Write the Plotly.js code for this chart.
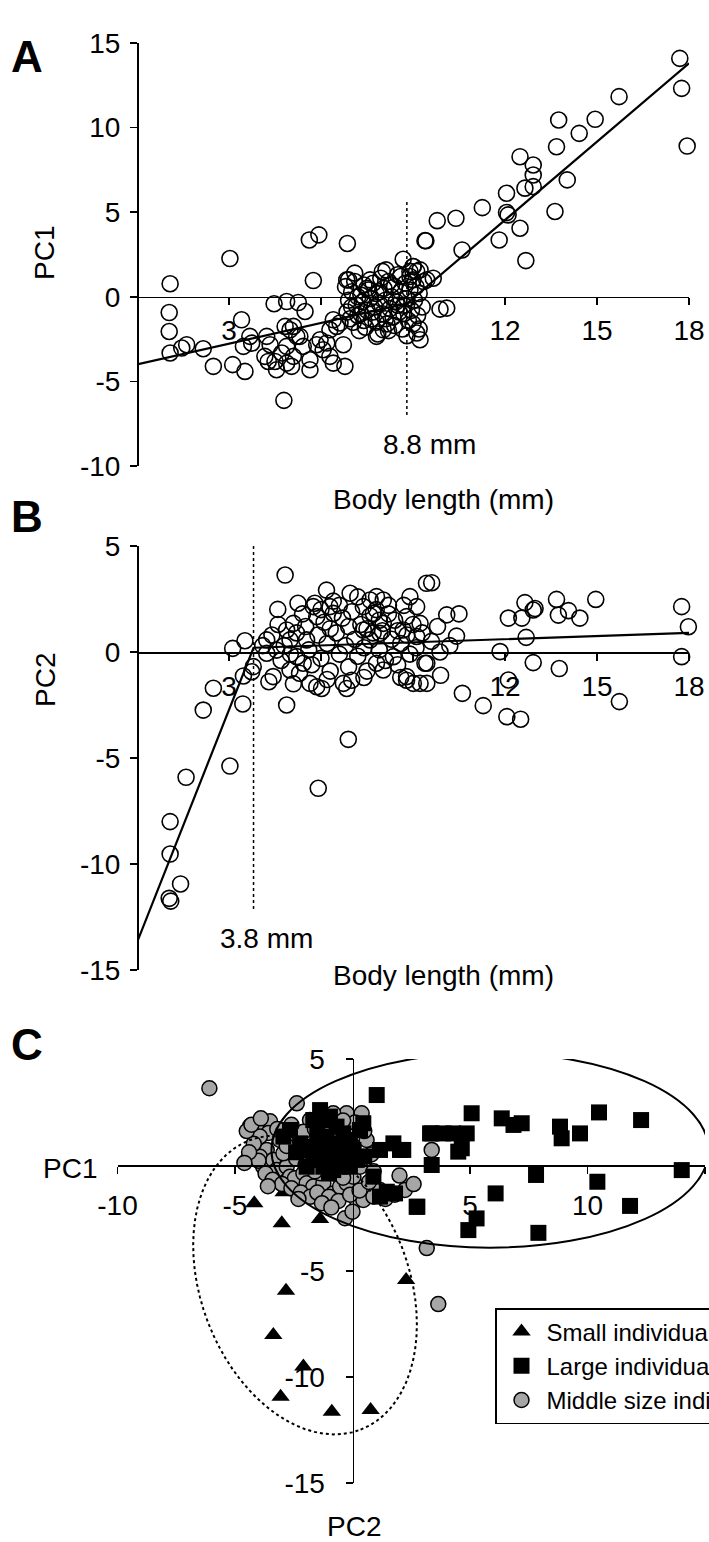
<!DOCTYPE html>
<html>
<head>
<meta charset="utf-8">
<script src="https://cdn.plot.ly/plotly-3.0.1.min.js"></script>
<style>html,body{margin:0;padding:0;background:#fff;overflow:hidden}#chart{width:709px;height:1542px}</style>
</head>
<body>
<div id="chart"></div>
<script>
// ---------------- DATA ----------------
// Panel A: body length (mm) vs PC1
const aX = [1.08,1.05,1.05,1.08,1.46,1.62,2.16,2.49,3.03,3.12,3.52,3.41,3.47,3.74,3.68,4.47,4.88,5.26,5.48,5.62,5.93,6.86,5.75,
 4.23,4.34,4.17,4.28,4.55,4.5,4.72,4.88,4.99,4.83,5.10,5.21,5.10,4.88,5.04,5.42,5.31,5.64,5.64,5.86,5.97,6.07,6.19,6.29,6.40,6.51,6.62,6.73,6.78,6.40,6.29,4.79,
 8.68,9.39,8.12,9.0,9.12,9.23,9.12,8.03,7.81,6.84,
 17.70,17.76,17.94,15.72,14.94,14.42,13.75,13.68,14.03,13.63,12.49,12.92,12.92,12.65,12.92,12.05,12.05,12.1,12.49,11.81,12.68,11.26,10.40,9.79,9.42,10.6,9.88,10.1,9.01,9.23,9.45,9.66,8.9,
 6.8,6.9,6.85,7.0,7.05,7.1,7.15,7.2,7.3,7.35,7.4,7.45,7.5,7.55,7.6,7.65,7.7,7.75,7.8,7.85,7.9,7.95,8.0,8.05,8.1,8.15,8.2,8.25,8.3,8.35,8.4,8.45,8.5,8.55,8.6,8.65,8.7,8.75,8.8,8.85,8.9,8.95,9.0,9.05,9.1,9.15,9.2,9.3,9.35,
 7.0,7.25,7.4,7.6,7.8,8.0,8.2,8.4,8.6,8.8,9.0,7.1,7.3,7.5,7.7,7.9,8.1,8.3,8.5,8.7,8.9,9.2,6.9,6.95,7.2];
const aY = [0.77,-0.93,-2.05,-3.32,-3.03,-2.83,-3.07,-4.11,2.26,-4.01,-4.41,-1.36,-2.93,-2.74,-2.34,-0.41,-0.28,-0.34,-0.87,3.36,3.66,3.15,0.96,
 -2.34,-2.83,-3.52,-3.82,-4.31,-3.82,-3.32,-2.93,-1.95,-1.75,-1.75,-2.34,-3.52,-3.92,-4.11,-2.93,-2.34,-4.31,-3.72,-2.83,-2.54,-3.13,-2.73,-3.52,-3.92,-1.75,-1.55,-2.83,-4.11,-1.36,-1.95,-6.12,
 2.22,3.32,1.59,1.79,1.5,-2.54,-2.14,-1.95,-2.34,1.0,
 14.09,12.32,8.91,11.83,10.49,9.66,10.45,8.87,6.91,5.04,8.28,7.79,7.2,6.42,6.51,6.12,4.98,4.84,4.05,3.36,2.14,5.27,4.64,4.5,3.31,2.77,-0.73,-0.67,1.79,1.59,1.0,1.1,1.2,
 0.6,-0.2,-0.9,0.3,-1.5,0.9,-0.5,-1.1,0.1,-0.3,0.7,-1.8,-0.8,0.4,-0.1,-1.3,0.8,-0.6,0.2,-2.2,-0.4,1.1,-1.0,0.5,-0.2,-1.6,0.9,-0.7,0.0,-1.2,0.6,-0.3,1.3,-0.9,0.3,-1.9,-0.5,0.8,-0.1,-1.4,0.4,-0.8,1.0,-0.2,0.6,-1.1,0.2,-0.6,0.9,
 -0.6,-2.0,-1.4,1.0,-1.5,1.5,-2.0,-1.7,1.2,-2.3,-1.6,1.4,-1.0,0.5,-0.9,0.3,-1.3,0.7,-0.5,-1.0,1.5,-1.9,1.0,-1.3,0.0];
const aFitX = [0, 8.8, 18];
const aFitY = [-4.0, -0.4, 13.8];
const aBreak = 8.8;
const aBreakY = [5.6, -7.1];

// Panel B: body length (mm) vs PC2
const bX = [1.08,1.08,1.42,1.05,1.10,1.6,2.16,2.49,3.03,3.12,3.52,3.45,3.47,3.74,3.79,
 4.83,4.59,4.88,6.89,5.91,
 4.23,4.23,4.44,4.55,4.88,5.10,4.99,5.21,5.42,4.99,5.64,5.86,6.02,5.53,5.75,5.86,6.18,6.29,6.40,6.73,6.84,7.0,6.95,7.38,7.6,7.81,8.03,7.71,7.38,7.6,7.92,8.03,7.81,8.03,8.36,8.68,8.79,8.90,9.12,9.23,9.12,9.01,9.23,9.39,8.79,9.44,
 9.61,10.1,10.42,9.45,9.88,9.45,8.79,11.84,12.11,12.55,12.65,12.92,12.98,12.69,12.92,13.68,13.74,14.07,14.44,14.96,13.77,17.76,17.98,17.76,12.11,10.61,11.29,12.06,12.51,15.73,
 4.1,4.4,4.7,4.8,5.0,5.2,5.3,5.5,5.6,5.7,5.8,5.9,6.0,6.1,6.2,6.3,6.4,6.5,6.6,6.7,6.8,6.9,7.0,7.1,7.2,7.3,7.4,7.5,7.6,7.7,7.8,7.9,8.0,8.1,8.2,8.3,8.4,8.5,8.6,8.7,8.8,8.9,9.0,9.1,9.3,
 6.0,6.6,7.2,7.5,8.2,8.5,6.3,5.4,4.6,6.9,7.9,8.6,7.4,6.2,5.1,9.6,9.8,10.2,10.5,9.9,5.25,4.3];
const bY = [-8.0,-9.53,-10.94,-11.62,-11.75,-5.91,-2.74,-1.71,-5.38,0.17,0.53,-2.45,-1.13,-0.93,-0.69,
 3.63,2.01,-2.5,-4.12,-6.43,
 0.57,-0.06,-1.16,0.09,1.04,1.35,0.57,-0.22,-0.53,-0.85,-1.48,-1.64,-1.72,0.57,2.14,1.67,2.92,2.14,1.82,-1.48,-1.72,-1.33,2.77,2.14,2.45,2.61,2.45,1.82,1.04,0.57,0.88,1.35,-0.53,-0.85,-0.22,1.04,1.67,2.61,2.14,1.35,0.73,-1.48,-1.48,-0.53,-1.16,3.24,
 3.27,1.75,0.75,-0.53,0.0,-1.48,-1.33,0.02,1.60,1.60,2.33,1.98,2.05,0.69,-0.50,2.48,1.74,1.95,1.60,2.48,-0.78,2.14,1.19,-0.22,-1.32,-1.95,-2.53,-3.05,-3.17,-2.34,
 0.3,0.8,-0.4,0.3,-0.1,0.9,-1.0,1.2,0.1,-0.6,2.3,0.8,-0.3,1.4,0.4,-0.9,2.4,0.9,-0.1,1.6,0.3,-0.7,1.9,0.6,-0.2,1.3,0.2,-0.9,1.7,0.9,2.0,0.1,1.0,-0.4,2.2,0.6,1.5,-0.6,0.4,2.2,0.8,-0.1,1.3,0.2,0.9,
 2.0,2.2,2.6,1.1,1.8,1.0,1.1,1.8,1.3,1.2,1.5,-1.2,-1.2,-1.3,-1.5,0.5,1.2,0.3,1.8,-1.1,2.3,-1.4];
const bFitX = [0, 3.8, 18];
const bFitY = [-13.7, 0.2, 0.9];
const bBreak = 3.8;
const bBreakY = [5, -12.2];

// Panel C: PC1 vs PC2 by size class
const smallPC1 = [-4.5,-4.18,-2.93,-3.01,-1.38,2.28,-2.83,-3.37,-2.09,-3.06,-0.88,0.77];
const smallPC2 = [0.45,-1.8,-1.29,-2.75,-2.55,-5.42,-5.93,-8.02,-9.51,-10.93,-11.64,-11.56];
const largePC1 = [1.03,-1.38,-1.67,-1.24,-0.96,-0.68,0.46,0.32,-2.66,-2.94,-2.23,-1.95,-1.67,-1.38,-0.96,-0.68,-0.39,-0.25,0.04,-0.11,-0.39,-1.1,-1.67,-1.95,-1.24,-0.82,-0.53,-0.11,0.18,0.89,1.17,1.74,2.02,1.46,1.81,1.17,2.73,3.3,3.37,
 5.07,3.37,3.87,4.29,4.86,4.5,4.65,2.16,6.35,6.85,7.2,8.83,8.9,9.68,10.49,12.28,7.81,10.42,14.01,6.09,2.76,5.28,4.93,7.91,11.81,
 -1.5,-0.8,-1.2,-0.2,-2.4,-0.6,0.5,-1.0];
const largePC2 = [3.3,2.59,2.12,2.12,2.28,1.81,1.97,1.65,1.65,1.34,1.02,0.71,0.87,0.39,0.24,0.71,0.39,0.55,0.71,1.18,1.49,1.34,0.24,-0.08,-0.08,-0.24,-0.08,-0.08,0.24,-0.55,0.71,1.02,0.71,-1.26,-1.34,-1.49,-1.97,1.49,0.0,
 2.44,1.49,1.49,1.49,1.49,0.63,0.79,0.71,2.2,1.89,1.97,1.81,1.26,1.49,2.48,2.12,-0.47,-0.79,-0.24,-1.34,-1.97,-2.52,-3.07,-3.2,-1.93,
 1.6,1.0,1.0,0.9,0.6,0.0,0.4,-0.4];
const middlePC1 = [-6.09,-2.37,-4.36,-4.08,-3.51,-3.58,-3.94,-3.65,-3.94,-3.8,-3.37,-3.23,-2.8,-2.94,-3.09,-2.66,-2.45,-2.09,-1.95,-1.67,-1.24,-1.38,-0.82,-0.53,-0.25,0.04,0.32,0.46,0.6,0.39,-0.25,-0.82,-1.38,-1.81,-2.09,-0.68,-1.1,-0.53,0.04,0.18,0.46,0.89,1.17,2.23,-0.32,3.37,-0.68,3.16,3.65,
 -4.2,-4.0,-3.7,-3.4,-3.0,-2.6,-2.2,-1.8,-1.5,-1.0,-0.6,-0.1,0.3,0.7,0.9,0.8,0.5,0.1,-0.4,-1.0,-1.6,-2.6,-3.2,-2.8,-2.4,-2.0,-1.6,-1.2,-0.8,-0.4,-4.5,-4.3,-3.9,-4.4,-3.6,1.4,1.8,2.6,-2.3,-1.3,-0.9,0.0,2.0,-4.6];
const middlePC2 = [3.62,2.91,1.84,1.67,2.06,1.51,1.34,0.71,0.39,-0.08,0.24,-0.24,-0.08,0.55,1.18,-0.55,-0.63,-0.39,-0.86,-1.02,-0.86,-0.39,-1.34,-1.02,-0.86,-0.55,-0.08,0.39,1.18,2.44,2.44,2.44,2.28,2.12,1.57,1.49,0.71,0.24,0.87,-1.65,-1.65,-1.49,-1.18,-1.18,-2.51,0.71,0.08,-3.92,-6.56,
 1.0,0.2,-0.4,-0.7,-0.9,-1.1,-1.3,-1.5,-1.3,-1.5,-1.7,-1.4,-1.2,-0.8,-0.3,0.5,1.6,2.0,2.1,1.9,1.7,1.9,1.7,0.9,0.3,0.0,-0.3,0.2,-0.4,-0.6,1.6,1.9,2.2,0.6,-1.0,-1.6,-1.4,-0.9,-1.6,-1.8,-2.0,-2.2,-0.5,0.1];

const xTicksAB = [3,6,9,12,15,18];
const xTextAB = ['3','','','12','15','18'];
const yTicksA = [-10,-5,0,5,10,15];
const yTicksB = [-15,-10,-5,0,5];
const xTicksC = [-10,-5,0,5,10,15];
const xTextC = ['-10','-5','','5','10','15'];
const yTicksC = [-15,-10,-5,0,5];
const yTextC = ['-15','-10','-5','','5'];

// ---------------- LAYOUT ----------------
const W = 709, H = 1542;
const FONT = 'Liberation Sans, Arial, sans-serif';
const fx = p => p / W;
const fy = p => 1 - p / H;

const domXA = [fx(137), fx(689)];
const domYA = [fy(466), fy(43)];
const domYB = [fy(970), fy(546)];
const domXC = [fx(117.5), fx(705)];
const domYC = [fy(1483), fy(1059)];
const zeroPos = (dom, r) => dom[0] + (0 - r[0]) / (r[1] - r[0]) * (dom[1] - dom[0]);

const base = {
  showline: true, linecolor: '#000', linewidth: 1.5,
  ticks: 'outside', ticklen: 7, tickwidth: 1.5, tickcolor: '#000',
  showgrid: false, zeroline: false, fixedrange: true,
  tickfont: {family: FONT, size: 28, color: '#000'}
};

const rXA = [0, 18], rYA = [-10, 15], rYB = [-15, 5], rXC = [-10, 15], rYC = [-15, 5];

const layout = {
  width: W, height: H,
  margin: {l: 0, r: 0, t: 0, b: 0, autoexpand: false},
  paper_bgcolor: '#fff', plot_bgcolor: 'rgba(0,0,0,0)',
  font: {family: FONT, color: '#000'},
  xaxis: Object.assign({}, base, {domain: domXA, range: rXA, anchor: 'free', position: zeroPos(domYA, rYA),
    tickmode: 'array', tickvals: xTicksAB, ticktext: xTextAB, ticklabelstandoff: 1}),
  yaxis: Object.assign({}, base, {domain: domYA, range: rYA, anchor: 'free', position: domXA[0],
    tickmode: 'array', tickvals: yTicksA, ticktext: yTicksA.map(String), ticklabelstandoff: 4}),
  xaxis2: Object.assign({}, base, {domain: domXA, range: rXA, anchor: 'free', position: zeroPos(domYB, rYB),
    tickmode: 'array', tickvals: xTicksAB, ticktext: xTextAB, ticklabelstandoff: 2}),
  yaxis2: Object.assign({}, base, {domain: domYB, range: rYB, anchor: 'free', position: domXA[0],
    tickmode: 'array', tickvals: yTicksB, ticktext: yTicksB.map(String), ticklabelstandoff: 4}),
  xaxis3: Object.assign({}, base, {domain: domXC, range: rXC, anchor: 'free', position: zeroPos(domYC, rYC),
    tickmode: 'array', tickvals: xTicksC, ticktext: xTextC, ticklabelstandoff: 8}),
  yaxis3: Object.assign({}, base, {domain: domYC, range: rYC, anchor: 'free', position: zeroPos(domXC, rXC),
    tickmode: 'array', tickvals: yTicksC, ticktext: yTextC, ticklabelstandoff: 15}),
  showlegend: true,
  legend: {x: fx(495), y: fy(1308), xanchor: 'left', yanchor: 'top', bgcolor: '#fff',
    bordercolor: '#000', borderwidth: 1.5, font: {family: FONT, size: 24, color: '#000'},
    itemwidth: 40, tracegroupgap: 0},
  annotations: [],
  shapes: []
};

function ann(text, px, py, size, extra) {
  layout.annotations.push(Object.assign({text: text, xref: 'paper', yref: 'paper', x: fx(px), y: fy(py),
    xanchor: 'center', yanchor: 'middle', showarrow: false,
    font: {family: FONT, size: size, color: '#000'}}, extra || {}));
}
ann('<b>A</b>', 27, 57, 44);
ann('<b>B</b>', 27, 517, 44);
ann('<b>C</b>', 27, 1044, 44);
ann('PC1', 45, 253, 28, {textangle: -90});
ann('8.8 mm', 430, 445, 28);
ann('Body length (mm)', 443, 500, 28);
ann('PC2', 45, 680, 28, {textangle: -90});
ann('3.8 mm', 266, 939, 28);
ann('Body length (mm)', 443, 975, 28);
ann('PC1', 70, 1168, 28);
ann('PC2', 354, 1526, 28);

// Ellipses in panel C (drawn in axis data coordinates)
layout.shapes.push({type: 'circle', xref: 'x3', yref: 'y3', x0: -3.45, x1: 15.15, y0: -3.9, y1: 5.3,
  line: {color: '#000', width: 2}, fillcolor: 'rgba(0,0,0,0)', layer: 'above'});
(function () {
  // rotated ellipse: centre, semi-axes (in plot pixels), tilt
  const sx = (domXC[1] - domXC[0]) * W / (rXC[1] - rXC[0]);
  const sy = (domYC[1] - domYC[0]) * H / (rYC[1] - rYC[0]);
  const cx = -2.02, cy = -5.66, a = 155, b = 104, th = 21 * Math.PI / 180;
  let d = '';
  for (let i = 0; i <= 72; i++) {
    const t = i / 72 * 2 * Math.PI;
    const dxp = a * Math.cos(t) * Math.sin(th) + b * Math.sin(t) * Math.cos(th);
    const dyp = a * Math.cos(t) * Math.cos(th) - b * Math.sin(t) * Math.sin(th);
    const x = cx + dxp / sx, y = cy - dyp / sy;
    d += (i === 0 ? 'M' : 'L') + x.toFixed(4) + ',' + y.toFixed(4);
  }
  d += 'Z';
  layout.shapes.push({type: 'path', path: d, xref: 'x3', yref: 'y3',
    line: {color: '#000', width: 2, dash: 'dot'}, layer: 'above'});
})();

// ---------------- TRACES ----------------
const openCircle = {symbol: 'circle-open', size: 16, color: '#000', line: {width: 1.6}};
const traces = [
  {x: aX, y: aY, xaxis: 'x', yaxis: 'y', mode: 'markers', type: 'scatter', marker: openCircle, showlegend: false, cliponaxis: false},
  {x: aFitX, y: aFitY, xaxis: 'x', yaxis: 'y', mode: 'lines', type: 'scatter', line: {color: '#000', width: 2.2}, showlegend: false},
  {x: [aBreak, aBreak], y: aBreakY, xaxis: 'x', yaxis: 'y', mode: 'lines', type: 'scatter', line: {color: '#000', width: 1.5, dash: 'dot'}, showlegend: false},
  {x: bX, y: bY, xaxis: 'x2', yaxis: 'y2', mode: 'markers', type: 'scatter', marker: openCircle, showlegend: false, cliponaxis: false},
  {x: bFitX, y: bFitY, xaxis: 'x2', yaxis: 'y2', mode: 'lines', type: 'scatter', line: {color: '#000', width: 2.2}, showlegend: false},
  {x: [bBreak, bBreak], y: bBreakY, xaxis: 'x2', yaxis: 'y2', mode: 'lines', type: 'scatter', line: {color: '#000', width: 1.5, dash: 'dot'}, showlegend: false},
  {x: smallPC1, y: smallPC2, xaxis: 'x3', yaxis: 'y3', mode: 'markers', type: 'scatter', name: 'Small individuals', legendrank: 1,
    marker: {symbol: 'triangle-up', size: 16, color: '#000'}, cliponaxis: false},
  {x: middlePC1, y: middlePC2, xaxis: 'x3', yaxis: 'y3', mode: 'markers', type: 'scatter', name: 'Middle size individuals', legendrank: 3,
    marker: {symbol: 'circle', size: 15, color: '#a6a6a6', line: {color: '#000', width: 1.5}}, cliponaxis: false},
  {x: largePC1, y: largePC2, xaxis: 'x3', yaxis: 'y3', mode: 'markers', type: 'scatter', name: 'Large individuals', legendrank: 2,
    marker: {symbol: 'square', size: 16, color: '#000'}, cliponaxis: false}
];

Plotly.newPlot('chart', traces, layout, {staticPlot: true, displayModeBar: false});
</script>
</body>
</html>
